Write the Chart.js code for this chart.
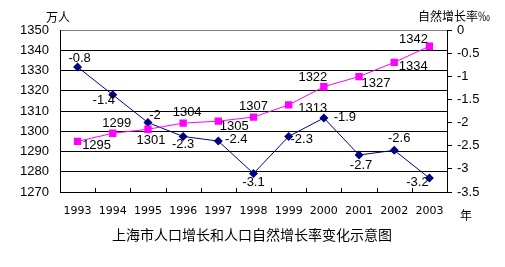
<!DOCTYPE html>
<html>
<head>
<meta charset="utf-8">
<script src="https://cdn.jsdelivr.net/npm/chart.js@4/dist/chart.umd.min.js"></script>
<style>
  html, body { margin: 0; padding: 0; background: #fff; }
  #wrap { width: 505px; height: 267px; }
</style>
</head>
<body>
<div id="wrap"><canvas id="chart" width="505" height="267"></canvas></div>
<script>
// ---- data ----
const years = ['1993', '1994', '1995', '1996', '1997', '1998', '1999', '2000', '2001', '2002', '2003'];
const population = [1295, 1299, 1301, 1304, 1305, 1307, 1313, 1322, 1327, 1334, 1342];   // 万人
const growthRate = [-0.8, -1.4, -2, -2.3, -2.4, -3.1, -2.3, -1.9, -2.7, -2.6, -3.2];     // ‰
const popAxis = { min: 1270, max: 1350, step: 10 };
const rateAxis = { min: -3.5, max: 0, step: 0.5 };

// ---- label placement (dx, dy from the point) ----
const popLabelOffsets = [[19, 4], [4, -10], [3, 11], [4, -11], [16, 5], [0, -11], [24, 3], [-11, -9], [17, 7], [19, 4], [-16, -7]];
const rateLabelOffsets = [[2, -9], [-9, 6], [7, -7], [0, 8], [18, -2], [0, 9], [13, 3], [21, -1], [2, 10], [5, -12], [-12, 4]];

const NUM_FONT = '"Liberation Sans", Arial, sans-serif';
const CJK_FONT = '"Noto Sans CJK SC", sans-serif';

const pointLabels = {
  id: 'pointLabels',
  afterDatasetsDraw(chart) {
    const ctx = chart.ctx;
    ctx.save();
    ctx.font = '13px ' + NUM_FONT;
    ctx.fillStyle = '#000';
    ctx.textAlign = 'center';
    ctx.textBaseline = 'middle';
    [popLabelOffsets, rateLabelOffsets].forEach((offs, di) => {
      const meta = chart.getDatasetMeta(di);
      const vals = chart.data.datasets[di].data;
      meta.data.forEach((pt, i) => {
        ctx.fillText(String(vals[i]), pt.x + offs[i][0], pt.y + offs[i][1]);
      });
    });
    ctx.restore();
  }
};

const decorations = {
  id: 'decorations',
  afterDraw(chart) {
    const ctx = chart.ctx;
    const area = chart.chartArea;
    const x = chart.scales.x;
    ctx.save();
    // small inside tick marks between the years
    ctx.strokeStyle = '#000';
    ctx.lineWidth = 1;
    ctx.beginPath();
    for (let i = 1; i < years.length; i++) {
      const px = Math.round((x.getPixelForValue(i - 1) + x.getPixelForValue(i)) / 2) + 0.5;
      ctx.moveTo(px, area.bottom);
      ctx.lineTo(px, area.bottom - 4);
    }
    ctx.stroke();
    // axis titles and chart title
    ctx.fillStyle = '#000';
    ctx.textBaseline = 'middle';
    ctx.font = '12px ' + CJK_FONT;
    ctx.textAlign = 'center';
    ctx.fillText('万人', 58, 17);
    ctx.textAlign = 'left';
    ctx.fillText('自然增长率‰', 418, 16);
    ctx.textAlign = 'center';
    ctx.fillText('年', 466, 215);
    ctx.font = '14px ' + CJK_FONT;
    ctx.fillText('上海市人口增长和人口自然增长率变化示意图', 252, 235);
    ctx.restore();
  }
};

const plainNumber = (v) => String(Math.round(v * 10) / 10);

new Chart(document.getElementById('chart'), {
  type: 'line',
  data: {
    labels: years,
    datasets: [
      {
        label: '人口',
        data: population,
        yAxisID: 'y',
        borderColor: '#ff00ff',
        backgroundColor: '#ff00ff',
        borderWidth: 1,
        pointStyle: 'rect',
        pointRadius: 5.2,
        pointBorderWidth: 0,
        tension: 0
      },
      {
        label: '自然增长率',
        data: growthRate,
        yAxisID: 'y1',
        borderColor: '#000080',
        backgroundColor: '#000080',
        borderWidth: 1,
        pointStyle: 'rectRot',
        pointRadius: 4.5,
        pointBorderWidth: 0,
        tension: 0
      }
    ]
  },
  options: {
    responsive: false,
    animation: false,
    devicePixelRatio: 1,
    layout: { padding: { top: 30, left: 0, right: 0, bottom: 0 } },
    plugins: {
      legend: { display: false },
      tooltip: { enabled: false },
      title: { display: false }
    },
    scales: {
      x: {
        offset: true,
        grid: { display: false, drawTicks: false },
        border: { display: true, color: '#000', width: 1 },
        ticks: { color: '#000', font: { family: '"DejaVu Sans", sans-serif', size: 11 }, padding: 13, maxRotation: 0, autoSkip: false },
        afterFit(scale) { scale.height = 75; }
      },
      y: {
        position: 'left',
        min: popAxis.min,
        max: popAxis.max,
        ticks: { stepSize: popAxis.step, color: '#000', font: { family: NUM_FONT, size: 13 }, padding: 11, callback: plainNumber },
        grid: {
          color: (c) => (c.tick && c.tick.value === popAxis.max ? '#808080' : '#000'),
          lineWidth: 1,
          drawTicks: false
        },
        border: { display: true, color: '#000', width: 1 },
        afterFit(scale) { scale.width = 60; }
      },
      y1: {
        position: 'right',
        min: rateAxis.min,
        max: rateAxis.max,
        ticks: { stepSize: rateAxis.step, color: '#000', font: { family: NUM_FONT, size: 13 }, padding: 5, callback: plainNumber },
        grid: { drawOnChartArea: false, drawTicks: true, tickLength: 5, color: '#000' },
        border: { display: true, color: '#000', width: 1 },
        afterFit(scale) { scale.width = 58; }
      }
    }
  },
  plugins: [pointLabels, decorations]
});
</script>
</body>
</html>
